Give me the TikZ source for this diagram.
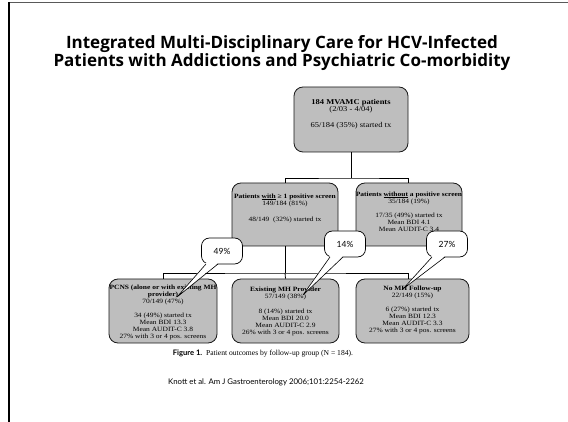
\documentclass[tikz,border=0pt]{standalone}
\usepackage{fontspec}
\setmainfont{Liberation Serif}
\newfontfamily\gill{Lato}
\newfontfamily\titlefont{Open Sans}
\newfontfamily\boxfont{Liberation Serif}[FakeStretch=1.15]
\usetikzlibrary{calc}
\definecolor{boxgray}{RGB}{190,190,190}
\newcommand\myul[1]{\setbox0\hbox{#1}\rlap{\rule[-0.9pt]{\wd0}{0.45pt}}\box0\relax}
\begin{document}
\begin{tikzpicture}[x=1pt,y=-1pt,
  box/.style={draw=black!90, line width=0.8pt, fill=boxgray, rounded corners=9pt, inner sep=0pt},
  txt/.style={align=center, inner sep=0pt, anchor=north, font=\boxfont\fontsize{6.5}{6.9}\selectfont},
  callbox/.style={draw=black, line width=0.7pt, fill=white, rounded corners=8pt, inner sep=0pt,
                  minimum width=41pt, minimum height=26pt, font=\gill\fontsize{8.5}{10}\selectfont},
  conn/.style={draw=black, line width=0.8pt},
  tail/.style={draw=black, line width=0.6pt}
]
\useasboundingbox (0,0) rectangle (568,422);
\fill[white] (0,0) rectangle (568,422);
% slide frame
\draw[black!65, line width=1.4pt] (9,2.5) -- (568,2.5);
\draw[black, line width=1.2pt] (9,422) -- (9,2);

% title
\node[align=center, inner sep=0pt, font=\titlefont\bfseries\fontsize{17}{18}\selectfont] (title) at (282,53)
  {Integrated Multi-Disciplinary Care for HCV-Infected\\Patients with Addictions and Psychiatric Co-morbidity};

% boxes
\node[box, minimum width=114pt, minimum height=65pt] (top) at (351,119.5) {};
\node[box, minimum width=106pt, minimum height=63pt] (midL) at (285,214.5) {};
\node[box, minimum width=106pt, minimum height=63pt] (midR) at (409,214.5) {};
\node[box, minimum width=108pt, minimum height=64pt] (botL) at (163,311) {};
\node[box, minimum width=107pt, minimum height=64pt] (botM) at (285.5,311) {};
\node[box, minimum width=113pt, minimum height=64pt] (botR) at (412.5,311) {};

% texts
\node[txt, font=\boxfont\fontsize{7.4}{7}\selectfont] (topT) at (351,99.5) {\textbf{184 MVAMC patients}\\(2/03 - 4/04)\\[9pt]65/184 (35\%) started tx};
\node[txt] (midLT) at (285,194) {\textbf{Patients \myul{with} ≥ 1 positive screen}\\149/184 (81\%)\\[9pt]48/149 \ (32\%) started tx};
\node[txt] (midRT) at (409,192) {\textbf{Patients \myul{without} a positive screen}\\35/184 (19\%)\\[7pt]17/35 (49\%) started tx\\Mean BDI 4.1\\Mean AUDIT-C 3.4};
\node[txt] (botLT) at (163,285) {\textbf{PCNS (alone or with existing MH}\\\textbf{provider)}\\70/149 (47\%)\\[7pt]34 (49\%) started tx\\Mean BDI 13.3\\Mean AUDIT-C 3.8\\27\% with 3 or 4 pos. screens};
\node[txt] (botMT) at (285.5,287) {\textbf{Existing MH Provider}\\57/149 (38\%)\\[8pt]8 (14\%) started tx\\Mean BDI 20.0\\Mean AUDIT-C 2.9\\26\% with 3 or 4 pos. screens};
\node[txt] (botRT) at (412.5,286) {\textbf{No MH Follow-up}\\22/149 (15\%)\\[7pt]6 (27\%) started tx\\Mean BDI 12.3\\Mean AUDIT-C 3.3\\27\% with 3 or 4 pos. screens};

% connectors
\coordinate (j1) at (351,178);
\coordinate (mrIn) at (408,183);
\draw[conn] (top.south) -- (j1);
\draw[conn] (midL.north) |- (j1) -| (mrIn);
\coordinate (j2) at (285,273);
\coordinate (brIn) at (408,279);
\draw[conn] (midL.south) -- (j2);
\draw[conn] (botL.north) |- (j2) -| (brIn);
\draw[conn] (j2) -- (botM.north);

% callouts
\node[callbox] (c49) at (222,251) {49\%};
\node[callbox] (c14) at (345,244) {14\%};
\node[callbox] (c27) at (447,244) {27\%};

\coordinate (p49) at (177,297);
\coordinate (a49) at (206,264); \coordinate (b49) at (218,264);
\fill[white] ($(a49)+(0,-1.2)$) -- (p49) -- ($(b49)+(0,-1.2)$) -- cycle;
\draw[tail] (a49) -- (p49) -- (b49);

\coordinate (p14) at (303,295);
\coordinate (a14) at (330,257); \coordinate (b14) at (343,257);
\fill[white] ($(a14)+(0,-1.2)$) -- (p14) -- ($(b14)+(0,-1.2)$) -- cycle;
\draw[tail] (a14) -- (p14) -- (b14);

\coordinate (p27) at (403,289);
\coordinate (a27) at (432,257); \coordinate (b27) at (445,257);
\fill[white] ($(a27)+(0,-1.2)$) -- (p27) -- ($(b27)+(0,-1.2)$) -- cycle;
\draw[tail] (a27) -- (p27) -- (b27);

% caption and citation
\node[inner sep=0pt, font=\fontsize{7.6}{9}\selectfont] (cap) at (263,354)
  {{\gill\bfseries Figure 1.}\ \ Patient outcomes by follow-up group (N = 184).};
\node[inner sep=0pt, font=\gill\fontsize{7.8}{9}\selectfont] (cite) at (266,382)
  {Knott et al. Am J Gastroenterology 2006;101:2254-2262};
\end{tikzpicture}
\end{document}
